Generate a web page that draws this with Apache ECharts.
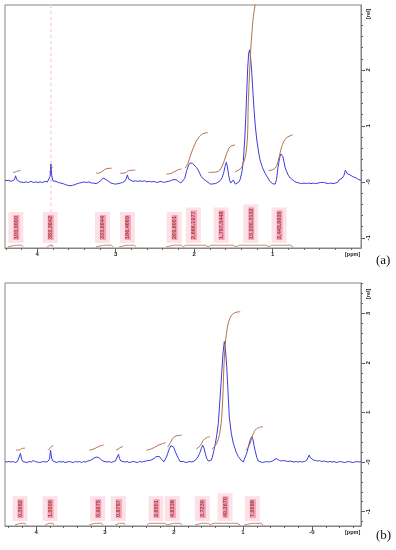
<!DOCTYPE html>
<html><head><meta charset="utf-8">
<script src="https://cdn.jsdelivr.net/npm/echarts@6/dist/echarts.min.js"></script>
<style>html,body{margin:0;padding:0;background:#fff}#c{width:396px;height:550px}</style>
</head><body><div id="c"></div>
<script>
// ---------- panel (a) data ----------
const spectrumA = [
[4.41,.02],[4.39,.015],[4.37,.03],[4.35,.02],[4.33,.01],[4.31,.02],[4.29,.04],[4.275,.11],[4.26,.04],[4.24,.01],
[4.22,0],[4.20,.01],[4.17,-.01],[4.14,0],[4.11,-.01],[4.08,.01],[4.05,-.01],[4.02,0],[3.99,-.01],[3.96,0],
[3.93,-.01],[3.90,.01],[3.87,0],[3.85,.02],[3.835,.10],[3.825,.32],[3.815,.12],[3.80,.02],[3.78,0],[3.76,.01],
[3.73,-.01],[3.70,-.02],[3.67,-.03],[3.64,-.05],[3.61,-.06],[3.58,-.07],[3.55,-.06],[3.52,-.05],[3.49,-.03],[3.46,-.02],
[3.43,-.01],[3.40,0],[3.37,-.01],[3.34,0],[3.31,-.02],[3.28,-.02],[3.25,-.03],[3.22,-.01],[3.19,.02],[3.16,.07],
[3.145,.08],[3.12,.04],[3.09,.01],[3.06,-.02],[3.03,-.03],[3.00,-.04],[2.97,-.03],[2.94,-.02],[2.91,-.01],[2.88,.02],
[2.865,.06],[2.85,.125],[2.835,.05],[2.81,.02],[2.78,.01],[2.75,.02],[2.72,.01],[2.69,.02],[2.66,.01],[2.63,.02],
[2.60,0],[2.57,.01],[2.54,0],[2.51,.01],[2.48,-.01],[2.45,0],[2.42,.01],[2.39,-.01],[2.36,0],[2.33,.01],
[2.30,.02],[2.27,.04],[2.25,.05],[2.23,.04],[2.20,.01],[2.17,-.02],[2.145,-.01],[2.12,.06],[2.095,.20],[2.07,.30],
[2.05,.34],[2.035,.35],[2.02,.33],[2.00,.31],[1.97,.26],[1.94,.19],[1.91,.10],[1.88,.05],[1.85,.02],[1.82,-.01],
[1.79,-.04],[1.76,-.035],[1.73,-.03],[1.70,-.01],[1.67,.02],[1.645,.07],[1.625,.15],[1.605,.28],[1.59,.35],[1.575,.27],
[1.56,.12],[1.545,.02],[1.533,-.02],[1.515,.01],[1.50,.035],[1.488,0],[1.474,-.04],[1.45,-.03],[1.43,0],[1.414,.04],
[1.39,.18],[1.372,.39],[1.355,.75],[1.341,1.17],[1.328,1.65],[1.316,2.06],[1.304,2.30],[1.292,2.36],[1.28,2.22],[1.265,1.95],
[1.25,1.60],[1.236,1.29],[1.22,1.00],[1.201,.75],[1.18,.55],[1.159,.39],[1.13,.26],[1.096,.155],[1.06,.07],[1.032,.005],
[1.00,-.03],[.968,-.04],[.95,.04],[.93,.27],[.91,.43],[.895,.50],[.883,.52],[.87,.46],[.855,.36],[.84,.26],
[.828,.21],[.80,.12],[.775,.07],[.752,.04],[.72,.01],[.69,-.01],[.66,-.02],[.63,-.03],[.60,-.02],[.57,-.03],
[.54,-.02],[.51,-.03],[.48,-.02],[.45,-.03],[.42,-.02],[.39,-.01],[.37,.005],[.35,-.01],[.32,-.02],[.29,-.03],
[.26,-.02],[.23,-.03],[.20,-.02],[.17,-.01],[.153,.035],[.13,.03],[.11,.07],[.09,.12],[.072,.21],[.05,.15],
[.013,.125],[-.03,.09],[-.07,.066],[-.10,.04],[-.127,.03]
];
const integralRegionsA = [[4.369,4.178],[3.873,3.796],[3.248,3.032],[2.955,2.739],[2.357,2.140],[2.140,1.822],[1.822,1.465],[1.465,1.045],[1.045,0.739]];
const integralCurvesA = [
  [[4.31,.17],[4.28,.175],[4.25,.195],[4.21,.20]],
  [[3.845,.18],[3.83,.20],[3.82,.24],[3.80,.26]],
  [[3.25,.155],[3.20,.165],[3.16,.20],[3.12,.235],[3.05,.245]],
  [[2.94,.155],[2.88,.16],[2.85,.19],[2.82,.205],[2.75,.21]],
  [[2.35,.14],[2.29,.155],[2.24,.19],[2.20,.22],[2.16,.23]],
  [[2.115,.245],[2.08,.33],[2.04,.50],[2.00,.64],[1.95,.78],[1.89,.86],[1.825,.88]],
  [[1.818,.17],[1.71,.18],[1.647,.27],[1.584,.51],[1.54,.63],[1.478,.66]],
  [[1.478,.18],[1.392,.27],[1.329,.63],[1.308,1.46],[1.278,2.36],[1.245,2.95],[1.223,3.16],[1.19,3.6],[1.15,4.0]],
  [[1.053,.20],[.968,.245],[.926,.39],[.883,.63],[.828,.78],[.743,.84]]
];
const labelPpmA = [4.271,3.834,3.168,2.850,2.255,2.009,1.656,1.278,0.917];
const labelTextA = ['100.0000','382.3642','333.6644','186.4669','269.6001','2,666.1977','1,797.5448','15,030.3132','2,445.8939'];
const xTickLabelsA = [4,3,2,1];
const yTickLabelsA = [-1,0,1,2];

// ---------- panel (b) data ----------
const spectrumB = [
[4.45,.01],[4.42,0],[4.39,.01],[4.36,0],[4.33,.01],[4.30,-.01],[4.27,.01],[4.245,.05],[4.225,.175],[4.21,.06],
[4.19,.01],[4.16,0],[4.13,-.01],[4.10,.01],[4.07,0],[4.04,.03],[4.01,.01],[3.98,0],[3.95,-.01],[3.92,0],
[3.89,.01],[3.86,0],[3.83,.01],[3.805,.06],[3.79,.24],[3.775,.08],[3.755,.02],[3.73,0],[3.70,-.01],[3.67,.01],
[3.64,0],[3.61,.01],[3.58,-.01],[3.55,0],[3.52,.01],[3.49,0],[3.46,-.01],[3.43,.01],[3.40,0],[3.37,.01],
[3.34,-.01],[3.31,.01],[3.28,0],[3.25,.02],[3.22,.03],[3.19,.05],[3.16,.08],[3.13,.10],[3.11,.11],[3.09,.09],
[3.06,.05],[3.03,.02],[3.00,.01],[2.97,0],[2.94,.01],[2.91,-.01],[2.88,.01],[2.85,.02],[2.825,.06],[2.805,.155],
[2.79,.07],[2.77,.02],[2.74,.01],[2.71,0],[2.68,.01],[2.65,-.01],[2.62,0],[2.59,.01],[2.56,0],[2.53,-.01],
[2.50,.01],[2.47,0],[2.44,.01],[2.41,.02],[2.38,.03],[2.35,.03],[2.32,.05],[2.29,.07],[2.26,.11],[2.235,.14],
[2.21,.11],[2.18,.05],[2.16,.01],[2.145,.005],[2.13,.04],[2.11,.10],[2.09,.18],[2.065,.28],[2.045,.33],[2.025,.36],
[2.005,.30],[1.985,.22],[1.96,.14],[1.935,.07],[1.913,.01],[1.89,0],[1.86,.01],[1.83,-.01],[1.80,0],[1.77,.01],
[1.74,0],[1.71,.02],[1.68,.05],[1.655,.10],[1.63,.17],[1.605,.27],[1.585,.34],[1.565,.28],[1.545,.16],[1.525,.07],
[1.50,.02],[1.478,0],[1.46,.04],[1.445,.10],[1.43,.18],[1.40,.38],[1.38,.55],[1.358,.78],[1.335,1.25],[1.309,1.79],
[1.29,2.20],[1.271,2.43],[1.255,2.28],[1.236,1.92],[1.215,1.35],[1.199,.91],[1.17,.58],[1.141,.38],[1.10,.20],[1.068,.11],
[1.03,.04],[.996,0],[.97,.03],[.946,.18],[.92,.32],[.895,.45],[.875,.51],[.855,.45],[.84,.33],[.826,.24],
[.80,.09],[.778,.02],[.75,0],[.72,-.01],[.69,0],[.66,.01],[.63,0],[.60,.01],[.57,.02],[.545,.03],
[.52,.07],[.50,.05],[.47,.03],[.44,.02],[.41,.03],[.38,.02],[.35,.01],[.32,.02],[.29,.01],[.26,0],
[.23,.01],[.20,0],[.17,.01],[.14,0],[.11,.01],[.08,.03],[.06,.07],[.04,.14],[.025,.09],[.005,.05],
[-.02,.04],[-.05,.03],[-.08,.02],[-.11,.03],[-.14,.01],[-.17,.02],[-.20,.01],[-.23,0],[-.26,.01],[-.29,0],
[-.32,.01],[-.35,-.01],[-.38,0],[-.41,.01],[-.44,0],[-.47,-.01],[-.50,0],[-.53,.01],[-.56,0],[-.59,-.01],
[-.62,0],[-.65,.01],[-.68,0],[-.71,.01]
];
const integralRegionsB = [[4.304,4.145],[3.870,3.739],[3.232,3.029],[2.855,2.710],[2.391,2.101],[2.101,1.884],[1.696,1.478],[1.478,1.043],[0.986,0.710]];
const integralCurvesB = [
  [[4.29,.24],[4.24,.245],[4.21,.27],[4.16,.28]],
  [[3.83,.24],[3.80,.27],[3.78,.31],[3.75,.33]],
  [[3.23,.24],[3.17,.26],[3.11,.30],[3.06,.33],[3.02,.34]],
  [[2.84,.24],[2.80,.27],[2.77,.30],[2.74,.31]],
  [[2.40,.24],[2.32,.27],[2.24,.33],[2.17,.37],[2.12,.39]],
  [[2.09,.30],[2.05,.40],[2.01,.49],[1.96,.53],[1.89,.54]],
  [[1.68,.26],[1.62,.33],[1.58,.43],[1.53,.49],[1.48,.51]],
  [[1.45,.26],[1.38,.38],[1.33,.65],[1.30,1.11],[1.27,2.12],[1.24,2.59],[1.19,2.90],[1.12,3.01],[1.04,3.03]],
  [[.96,.24],[.91,.33],[.865,.52],[.82,.65],[.76,.70],[.71,.71]]
];
const labelPpmB = [4.232,3.797,3.106,2.807,2.261,2.025,1.590,1.261,0.865];
const labelTextB = ['0.3982','1.0000','0.9675','0.8787','2.6501','4.6338','3.7230','49.3670','7.0688'];
const xTickLabelsB = [4,3,2,1,0];
const yTickLabelsB = [-1,0,1,2,3];

// ---------- layout / style ----------
const panels = [
  {spec: spectrumA, regions: integralRegionsA, curves: integralCurvesA, lppm: labelPpmA, ltext: labelTextA,
   xt: xTickLabelsA, yt: yTickLabelsA, xr: [-0.127, 4.41], yr: [-1.18, 3.16], top: 5, labelBase: -1.09, brBase: -1.16, brH: 0.03},
  {spec: spectrumB, regions: integralRegionsB, curves: integralCurvesB, lppm: labelPpmB, ltext: labelTextB,
   xt: xTickLabelsB, yt: yTickLabelsB, xr: [-0.71, 4.45], yr: [-1.29, 3.61], top: 283, labelBase: -1.19, brBase: -1.27, brH: 0.035}
];
const BLUE = '#3c3cdc', BROWN = '#b3714b', AX = '#858585';
const FONT = 'Liberation Sans, Arial, sans-serif';
const fmt = v => (v === 0 ? '-0' : String(v));
function minorTicks(lo, hi) {
  const out = [];
  for (let k = Math.ceil(lo / 0.2 - 1e-9); k * 0.2 <= hi + 1e-9; k++) out.push(Math.round(k * 2) / 10);
  return out;
}

const grid = [], xAxis = [], yAxis = [], series = [];
panels.forEach((p, i) => {
  grid.push({left: 5, top: p.top, width: 356, height: 243, show: true, borderColor: AX, borderWidth: 1, backgroundColor: 'transparent'});
  xAxis.push({type: 'value', gridIndex: i, min: p.xr[0], max: p.xr[1], inverse: true, position: 'bottom',
    axisLine: {show: true, onZero: false, lineStyle: {color: AX}},
    axisTick: {show: true, customValues: p.xt, length: 4, lineStyle: {color: '#555'}},
    axisLabel: {show: true, customValues: p.xt, formatter: fmt, fontSize: 6, fontWeight: 'bold', color: '#222', margin: 3, fontFamily: FONT},
    splitLine: {show: false}});
  xAxis.push({type: 'value', gridIndex: i, min: p.xr[0], max: p.xr[1], inverse: true, position: 'bottom',
    axisLine: {show: false, onZero: false}, axisTick: {show: true, customValues: minorTicks(p.xr[0], p.xr[1]), length: 2, lineStyle: {color: '#666'}},
    axisLabel: {show: false}, splitLine: {show: false}});
  yAxis.push({type: 'value', gridIndex: i, min: p.yr[0], max: p.yr[1], position: 'right',
    axisLine: {show: true, onZero: false, lineStyle: {color: AX}},
    axisTick: {show: true, customValues: p.yt, length: 4, lineStyle: {color: '#555'}},
    axisLabel: {show: true, customValues: p.yt, formatter: fmt, rotate: 90, fontSize: 6, fontWeight: 'bold', color: '#222', margin: 4, fontFamily: FONT},
    splitLine: {show: false}});
  yAxis.push({type: 'value', gridIndex: i, min: p.yr[0], max: p.yr[1], position: 'right',
    axisLine: {show: false, onZero: false}, axisTick: {show: true, customValues: minorTicks(p.yr[0], p.yr[1]), length: 2, lineStyle: {color: '#666'}},
    axisLabel: {show: false}, splitLine: {show: false}});

  const xi = i * 2, yi = i * 2;
  const s = {type: 'line', xAxisIndex: xi, yAxisIndex: yi, data: p.spec, showSymbol: false, symbol: 'none',
    lineStyle: {color: BLUE, width: 1}, clip: true, silent: true, z: 3};
  if (i === 0) {
    s.markLine = {silent: true, symbol: ['none', 'none'], label: {show: false}, z: 1,
      lineStyle: {color: '#f8d4e0', type: [3, 3], width: 1.5}, data: [{xAxis: 3.83}]};
  }
  series.push(s);
  p.curves.forEach(c => series.push({type: 'line', xAxisIndex: xi, yAxisIndex: yi, data: c, smooth: 0.4,
    showSymbol: false, symbol: 'none', lineStyle: {color: BROWN, width: 1}, clip: true, silent: true, z: 4}));
  const br = [];
  p.regions.forEach(([a, b]) => {
    const w = a - b, m = (a + b) / 2, bb = p.brBase, h = p.brH;
    br.push([a, bb], [a - 0.1 * w, bb + h], [m + 0.06 * w, bb + h], [m, bb + 2 * h], [m - 0.06 * w, bb + h], [b + 0.1 * w, bb + h], [b, bb], ['-', '-']);
  });
  series.push({type: 'line', xAxisIndex: xi, yAxisIndex: yi, data: br, connectNulls: false, showSymbol: false, symbol: 'none',
    lineStyle: {color: BROWN, width: 0.8}, silent: true, z: 6});
  series.push({type: 'scatter', xAxisIndex: xi, yAxisIndex: yi, symbolSize: 0, silent: true, z: 5,
    data: p.lppm.map((x, k) => ({value: [x, p.labelBase], name: p.ltext[k]})),
    label: {show: true, position: 'inside', rotate: 90, align: 'left', verticalAlign: 'middle',
      formatter: d => '{t|' + d.name + '}',
      backgroundColor: '#fbd9e3', padding: [5, 3, 4, 3],
      rich: {t: {fontSize: 5.5, fontWeight: 'bold', fontFamily: FONT, color: '#8e2a1c', backgroundColor: '#f28fab', padding: [0, 1, 0, 1], lineHeight: 6}}}});
});

const chart = echarts.init(document.getElementById('c'), null, {renderer: 'canvas'});
chart.setOption({
  animation: false,
  backgroundColor: '#ffffff',
  grid, xAxis, yAxis, series,
  graphic: [
    {type: 'text', left: 345, top: 251, style: {text: '[ppm]', fontSize: 5.5, fontWeight: 'bold', fill: '#222', fontFamily: FONT}},
    {type: 'text', left: 345, top: 529, style: {text: '[ppm]', fontSize: 5.5, fontWeight: 'bold', fill: '#222', fontFamily: FONT}},
    {type: 'text', x: 365, y: 19, rotation: Math.PI / 2, style: {text: '[rel]', fontSize: 5.5, fontWeight: 'bold', fill: '#222', fontFamily: FONT}},
    {type: 'text', x: 365, y: 299, rotation: Math.PI / 2, style: {text: '[rel]', fontSize: 5.5, fontWeight: 'bold', fill: '#222', fontFamily: FONT}},
    {type: 'text', left: 376, top: 254, style: {text: '(a)', fontSize: 13, fill: '#111', fontFamily: 'Liberation Serif, Times New Roman, serif'}},
    {type: 'text', left: 376, top: 529, style: {text: '(b)', fontSize: 13, fill: '#111', fontFamily: 'Liberation Serif, Times New Roman, serif'}}
  ]
});
</script>
</body></html>
